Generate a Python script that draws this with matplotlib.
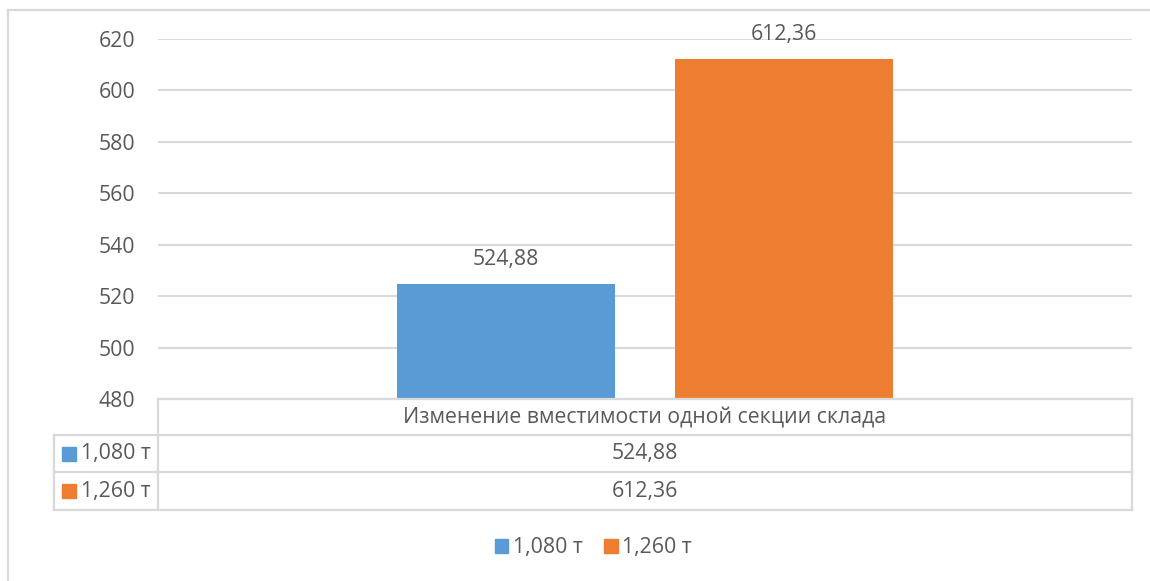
import matplotlib
matplotlib.use("Agg")
import matplotlib.pyplot as plt
from matplotlib.lines import Line2D
from matplotlib.patches import Rectangle

# Data
category = "Изменение вместимости одной секции склада"
series_names = ["1,080 т", "1,260 т"]
series_values = [524.88, 612.36]
y_ticks = [480, 500, 520, 540, 560, 580, 600, 620]

colors = ["#5B9BD5", "#ED7D31"]
text_color = "#595959"
line_color = "#D9D9D9"

plt.rcParams["font.family"] = ["Open Sans", "DejaVu Sans"]
FS = 15.3

W, H = 1150, 581
fig = plt.figure(figsize=(W / 100, H / 100), dpi=100)


def fx(px):
    return px / W


def fy(py):
    return 1 - py / H


# plot area in pixel coordinates
left, right, top, bottom = 158, 1132, 39, 399
ax = fig.add_axes([fx(left), fy(bottom), fx(right - left), (bottom - top) / H])

bar_width = 0.224
offset = 0.143
positions = [-offset, offset]
bars = ax.bar(positions, series_values, width=bar_width, color=colors, zorder=3)
for b, v in zip(bars, series_values):
    ax.annotate(f"{v:.2f}".replace(".", ","),
                xy=(b.get_x() + b.get_width() / 2, v),
                xytext=(0, 17.3), textcoords="offset points",
                ha="center", va="center", fontsize=FS, color=text_color,
                annotation_clip=False)

ax.set_xlim(-0.5, 0.5)
ax.set_ylim(y_ticks[0], y_ticks[-1])
ax.set_yticks(y_ticks)
ax.set_yticklabels([str(t) for t in y_ticks], fontsize=FS, color=text_color)
ax.set_xticks([])
ax.tick_params(axis="y", length=0, pad=16.5)
ax.yaxis.grid(True, color=line_color, linewidth=1.5, zorder=0)
for s in ax.spines.values():
    s.set_visible(False)

# data table below the plot area
table_left, key_left = left, 54
row_edges = [399, 435, 472, 510]


def hline(x0, x1, y):
    fig.add_artist(Line2D([fx(x0), fx(x1)], [fy(y), fy(y)], color=line_color, lw=1.6))


def vline(x, y0, y1):
    fig.add_artist(Line2D([fx(x), fx(x)], [fy(y0), fy(y1)], color=line_color, lw=1.6))


hline(table_left, right, row_edges[0])
for y in row_edges[1:]:
    hline(key_left, right, y)
vline(table_left, row_edges[0], row_edges[-1])
vline(right, row_edges[0], row_edges[-1])
vline(key_left, row_edges[1], row_edges[-1])

cx = (left + right) / 2
fig.text(fx(cx), fy((row_edges[0] + row_edges[1]) / 2 + 1), category,
         ha="center", va="center", fontsize=FS, color=text_color)
for i, (name, v, c) in enumerate(zip(series_names, series_values, colors)):
    yc = (row_edges[i + 1] + row_edges[i + 2]) / 2
    fig.text(fx(cx), fy(yc), f"{v:.2f}".replace(".", ","),
             ha="center", va="center", fontsize=FS, color=text_color)
    fig.add_artist(Rectangle((fx(62), fy(yc + 7)), fx(14), 14 / H,
                             color=c, transform=fig.transFigure))
    fig.text(fx(81), fy(yc), name, ha="left", va="center",
             fontsize=FS, color=text_color)

# legend
fig.legend(handles=[Rectangle((0, 0), 1, 1, color=c) for c in colors],
           labels=series_names, loc="center", bbox_to_anchor=(fx(593), fy(548)),
           ncol=2, frameon=False, fontsize=FS, labelcolor=text_color,
           handlelength=0.65, handleheight=0.65, handletextpad=0.2,
           columnspacing=1.0)

# chart border
hline(8, W, 10)
vline(8, 10, H)

fig.savefig("out.png", dpi=100)
